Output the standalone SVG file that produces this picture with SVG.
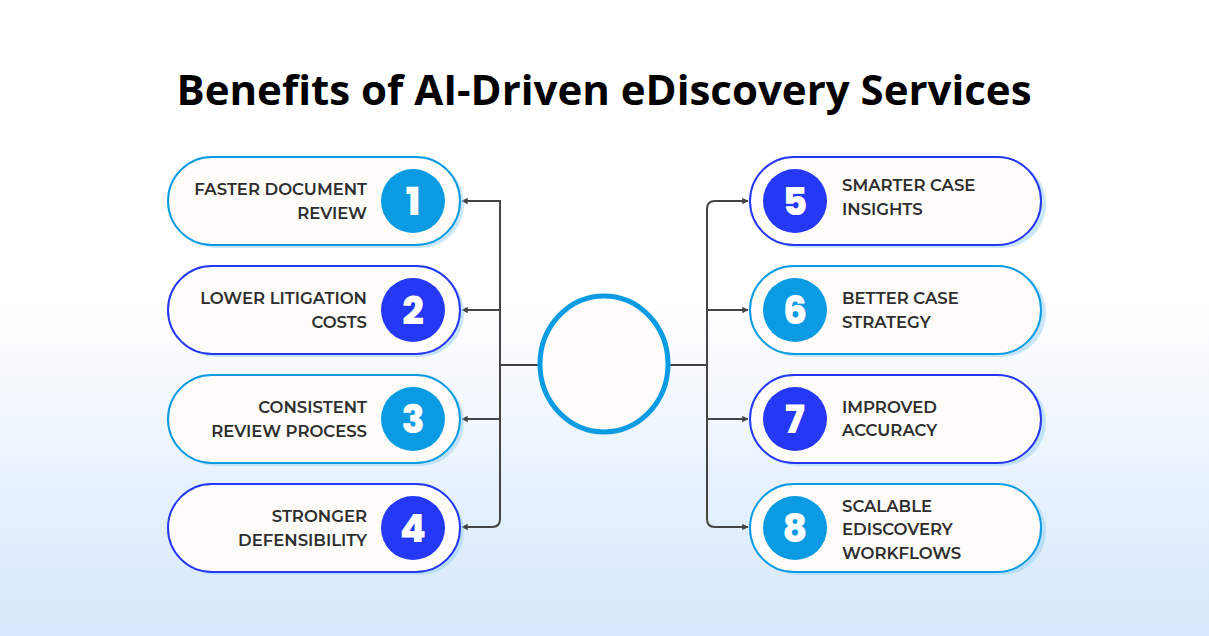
<svg xmlns="http://www.w3.org/2000/svg" width="1209" height="636" viewBox="0 0 1209 636">
<defs>
<linearGradient id="bg" x1="0" y1="0" x2="0" y2="1">
<stop offset="0" stop-color="#ffffff"/><stop offset="0.47" stop-color="#ffffff"/><stop offset="1" stop-color="#d5e7fb"/>
</linearGradient>
<marker id="ar" viewBox="0 0 10 10" refX="9" refY="5" markerWidth="3.2" markerHeight="3.2" orient="auto"><path d="M0,0 L10,5 L0,10 z" fill="#444"/></marker>
</defs>
<style>
.pill{fill:#fdfcf9;stroke-width:2}
.sh{fill:#9fd3f5;opacity:.55}
.c{stroke:#0a9be3}.b{stroke:#2438f5}
.fc{fill:#0a9be3}.fb{fill:#2438f5}
.t{font-family:Montserrat,"Open Sans","Liberation Sans",sans-serif;font-weight:600;font-size:16.5px;fill:#2e2e2e}
.l{text-anchor:end}
.n{font-family:Poppins,"Open Sans","Liberation Sans",sans-serif;font-weight:800;font-size:38px;fill:#fff;text-anchor:middle}
.ln{fill:none;stroke:#444;stroke-width:2}
</style>
<rect width="1209" height="636" fill="url(#bg)"/>
<text x="604" y="105" text-anchor="middle" font-family="'Open Sans','Liberation Sans',sans-serif" font-weight="700" font-size="42" fill="#000">Benefits of AI-Driven eDiscovery Services</text>
<g id="connectors">
<path class="ln" d="M538,365 H500"/>
<path class="ln" d="M500,209 V201 Q500,201 492,201 H462" marker-end="url(#ar)"/>
<path class="ln" d="M500,209 V519 Q500,527 492,527 H462" marker-end="url(#ar)"/>
<path class="ln" d="M500,310 H462" marker-end="url(#ar)"/>
<path class="ln" d="M500,419 H462" marker-end="url(#ar)"/>
<path class="ln" d="M670,365 H707"/>
<path class="ln" d="M707,519 V209 Q707,201 715,201 H748" marker-end="url(#ar)"/>
<path class="ln" d="M707,510 V519 Q707,527 715,527 H748" marker-end="url(#ar)"/>
<path class="ln" d="M707,310 H748" marker-end="url(#ar)"/>
<path class="ln" d="M707,419 H748" marker-end="url(#ar)"/>
</g>
<g id="center"><ellipse cx="604" cy="364" rx="64" ry="68" fill="#fdfcf9" stroke="#0a9be3" stroke-width="5"/></g>
<g id="n1"><rect class="sh" x="172" y="160" width="292" height="88" rx="44"/><rect class="pill c" x="168" y="157" width="292" height="88" rx="44"/><circle class="fc" cx="413" cy="201" r="32"/><text class="n" x="413" y="215">1</text><text class="t l" x="367" y="195">FASTER DOCUMENT</text><text class="t l" x="367" y="219">REVIEW</text></g>
<g id="n2"><rect class="sh" x="172" y="269" width="292" height="88" rx="44"/><rect class="pill b" x="168" y="266" width="292" height="88" rx="44"/><circle class="fb" cx="413" cy="310" r="32"/><text class="n" x="413" y="324">2</text><text class="t l" x="367" y="304">LOWER LITIGATION</text><text class="t l" x="367" y="328">COSTS</text></g>
<g id="n3"><rect class="sh" x="172" y="378" width="292" height="88" rx="44"/><rect class="pill c" x="168" y="375" width="292" height="88" rx="44"/><circle class="fc" cx="413" cy="419" r="32"/><text class="n" x="413" y="433">3</text><text class="t l" x="367" y="413">CONSISTENT</text><text class="t l" x="367" y="437">REVIEW PROCESS</text></g>
<g id="n4"><rect class="sh" x="172" y="487" width="292" height="88" rx="44"/><rect class="pill b" x="168" y="484" width="292" height="88" rx="44"/><circle class="fb" cx="413" cy="528" r="32"/><text class="n" x="413" y="542">4</text><text class="t l" x="367" y="522">STRONGER</text><text class="t l" x="367" y="546">DEFENSIBILITY</text></g>
<g id="n5"><rect class="sh" x="754" y="160" width="292" height="88" rx="44"/><rect class="pill b" x="750" y="157" width="291" height="88" rx="44"/><circle class="fb" cx="795" cy="201" r="32"/><text class="n" x="795" y="215">5</text><text class="t" x="842" y="191">SMARTER CASE</text><text class="t" x="842" y="215">INSIGHTS</text></g>
<g id="n6"><rect class="sh" x="754" y="269" width="292" height="88" rx="44"/><rect class="pill c" x="750" y="266" width="291" height="88" rx="44"/><circle class="fc" cx="795" cy="310" r="32"/><text class="n" x="795" y="324">6</text><text class="t" x="842" y="304">BETTER CASE</text><text class="t" x="842" y="328">STRATEGY</text></g>
<g id="n7"><rect class="sh" x="754" y="378" width="292" height="88" rx="44"/><rect class="pill b" x="750" y="375" width="291" height="88" rx="44"/><circle class="fb" cx="795" cy="419" r="32"/><text class="n" x="795" y="433">7</text><text class="t" x="842" y="413">IMPROVED</text><text class="t" x="842" y="436">ACCURACY</text></g>
<g id="n8"><rect class="sh" x="754" y="487" width="292" height="88" rx="44"/><rect class="pill c" x="750" y="484" width="291" height="88" rx="44"/><circle class="fc" cx="795" cy="528" r="32"/><text class="n" x="795" y="542">8</text><text class="t" x="842" y="512">SCALABLE</text><text class="t" x="842" y="535">EDISCOVERY</text><text class="t" x="842" y="559">WORKFLOWS</text></g>
</svg>
